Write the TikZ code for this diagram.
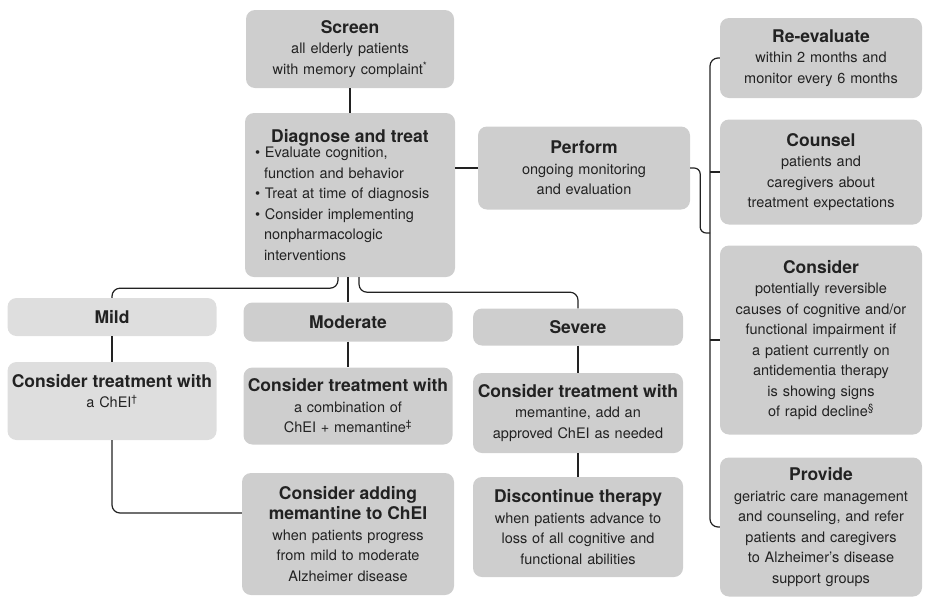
\documentclass[tikz,border=0pt]{standalone}
\usepackage{fontspec}
\setmainfont{TeX Gyre Heros}
\usepackage{tikz}
\usetikzlibrary{shapes.geometric,positioning}
\definecolor{boxgray}{RGB}{206,206,206}
\definecolor{lightgray}{RGB}{222,222,222}
\definecolor{inkgray}{RGB}{34,34,34}
\newcommand{\boxtitle}[1]{{\bfseries\fontsize{17.5}{21}\selectfont #1}}
\newcommand{\bulletitem}{\par\hangindent=9pt\hangafter=1\textbullet\ }
\tikzstyle{box} = [rectangle, fill=boxgray, rounded corners=9pt, align=center,
  inner sep=3pt, text=inkgray, font=\fontsize{14.5}{20.5}\selectfont]
\tikzstyle{pale} = [box, fill=lightgray]
\tikzstyle{line} = [draw, inkgray, line width=1.2pt, rounded corners=8pt]

\begin{document}
\begin{tikzpicture}[x=1pt, y=-1pt, node distance=84pt]
    \useasboundingbox (0,0) rectangle (926,598);
    \node[box, text width=202pt, minimum height=78pt] (screen) at (350,49)
      {\boxtitle{Screen}\\ all elderly patients\\ with memory complaint\textsuperscript{*}};
    \node[box, below of=screen, node distance=146pt, text width=204pt, minimum height=164pt] (diag)
      {\boxtitle{Diagnose and treat}\\
       \parbox{190pt}{\raggedright
       \bulletitem Evaluate cognition,\newline function and behavior
       \bulletitem Treat at time of diagnosis
       \bulletitem Consider implementing\newline nonpharmacologic\newline interventions}};
    \node[box, text width=206pt, minimum height=83pt] (perform) at (584,168)
      {\boxtitle{Perform}\\ ongoing monitoring\\ and evaluation};

    \node[box, text width=196pt, minimum height=80pt] (reeval) at (821,58)
      {\boxtitle{Re-evaluate}\\ within 2 months and\\ monitor every 6 months};
    \node[box, below of=reeval, node distance=114pt, text width=196pt, minimum height=105pt] (counsel)
      {\boxtitle{Counsel}\\ patients and\\ caregivers about\\ treatment expectations};
    \node[box, below of=counsel, node distance=168pt, text width=196pt, minimum height=189pt] (consider)
      {\boxtitle{Consider}\\ potentially reversible\\ causes of cognitive and/or\\ functional impairment if\\
       a patient currently on\\ antidementia therapy\\ is showing signs\\ of rapid decline\textsuperscript{§}};
    \node[box, below of=consider, node distance=187pt, text width=196pt, minimum height=139pt] (provide)
      {\boxtitle{Provide}\\ geriatric care management\\ and counseling, and refer\\ patients and caregivers\\
       to Alzheimer's disease\\ support groups};

    \node[pale, text width=203pt, minimum height=38pt] (mild) at (112,317) {\boxtitle{Mild}};
    \node[box, text width=203pt, minimum height=39pt] (moderate) at (348,322) {\boxtitle{Moderate}};
    \node[box, text width=204pt, minimum height=37pt] (severe) at (578,327) {\boxtitle{Severe}};

    \node[pale, below of=mild, text width=203pt, minimum height=78pt] (treatmild)
      {\boxtitle{Consider treatment with}\\ a ChEI\textsuperscript{†}\\ \mbox{}};
    \node[box, below of=moderate, text width=203pt, minimum height=77pt] (treatmod)
      {\boxtitle{Consider treatment with}\\ a combination of\\ ChEI + memantine\textsuperscript{‡}};
    \node[box, below of=treatmod, node distance=128pt, text width=206pt, minimum height=122pt] (addmem)
      {\boxtitle{Consider adding}\\ \boxtitle{memantine to ChEI}\\ when patients progress\\
       from mild to moderate\\ Alzheimer disease};
    \node[box, below of=severe, node distance=86pt, text width=204pt, minimum height=80pt] (treatsev)
      {\boxtitle{Consider treatment with}\\ memantine, add an\\ approved ChEI as needed};
    \node[box, below of=treatsev, node distance=114pt, text width=204pt, minimum height=100pt] (discont)
      {\boxtitle{Discontinue therapy}\\ when patients advance to\\ loss of all cognitive and\\ functional abilities};

    \coordinate (spine) at (710,0);
    \coordinate (pjoin) at (710,233);

    \path[line] (screen) -- (diag);
    \path[line] (diag.east |- perform.west) -- (perform.west);
    \path[line] (reeval.west) -| (spine |- provide.west) -- (provide.west);
    \path[line] (counsel.west) -- (counsel.west -| spine);
    \path[line] (consider.west) -- (consider.west -| spine);
    \path[line, rounded corners=6pt] (perform.east) -- ++(10,0) |- (pjoin);

    \path[line] (diag.south -| moderate.north) -- (moderate.north);
    \path[line] ([xshift=-12pt]diag.south) -- ++(0,11) -| (mild.north);
    \path[line] ([xshift=9pt]diag.south) -- ++(0,15) -| (severe.north);
    \path[line] (mild) -- (treatmild);
    \path[line] (moderate) -- (treatmod);
    \path[line] (severe) -- (treatsev);
    \path[line] (treatsev) -- (discont);
    \path[line] (treatmild.south) |- ([yshift=21pt]addmem.west);
  \end{tikzpicture}
\end{document}
